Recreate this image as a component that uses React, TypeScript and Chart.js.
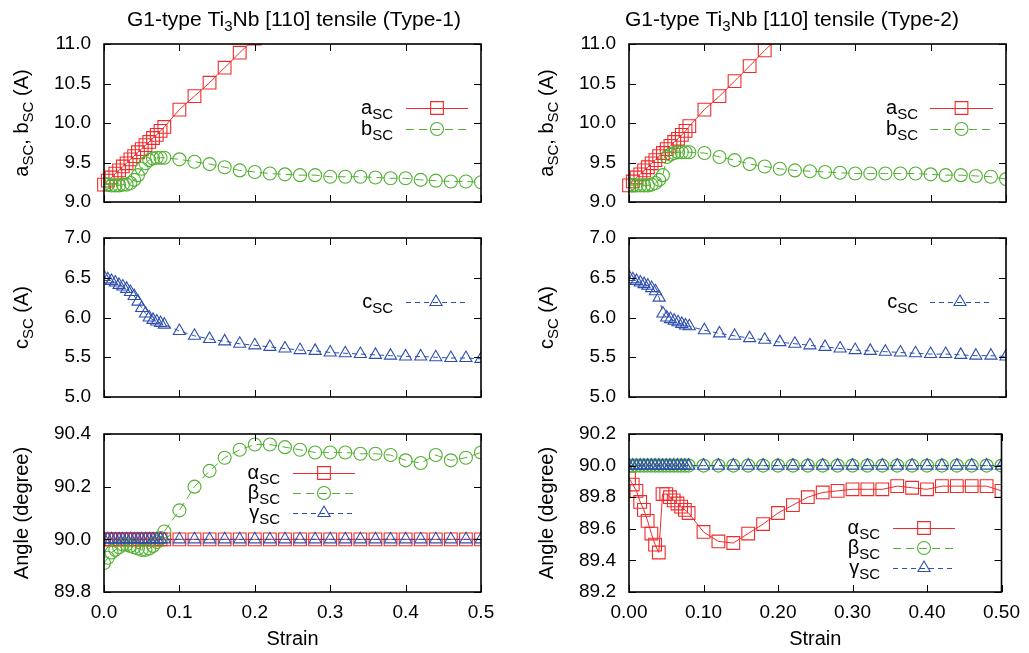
import React, { useEffect, useRef } from 'react';
import { Chart, registerables } from 'chart.js';

Chart.register(...registerables);

// ---------------- data ----------------
const STRAIN = [
  0, 0.005, 0.01, 0.015, 0.02, 0.025, 0.03, 0.035, 0.04, 0.045, 0.05, 0.055, 0.06, 0.065, 0.07, 0.075, 0.08,
  0.1, 0.12, 0.14, 0.16, 0.18, 0.2, 0.22, 0.24, 0.26, 0.28, 0.3, 0.32, 0.34, 0.36, 0.38, 0.4, 0.42, 0.44, 0.46, 0.48, 0.5,
];

const X_TICKS = [0, 0.1, 0.2, 0.3, 0.4, 0.5];
const Y_TICKS_AB = [9.0, 9.5, 10.0, 10.5, 11.0];
const Y_TICKS_C = [5.0, 5.5, 6.0, 6.5, 7.0];
const Y_TICKS_ANG1 = [89.8, 90.0, 90.2, 90.4];
const Y_TICKS_ANG2 = [89.2, 89.4, 89.6, 89.8, 90.0, 90.2];

// Type-1
const A_T1 = [
  9.22, 9.27, 9.31, 9.36, 9.4, 9.45, 9.49, 9.54, 9.58, 9.63, 9.67, 9.72, 9.76, 9.81, 9.85, 9.9, 9.95,
  10.17, 10.34, 10.51, 10.7, 10.89, 11.07, null, null, null, null, null, null, null, null, null, null, null, null, null, null, null,
];
const B_T1 = [
  9.23, 9.22, 9.21, 9.21, 9.21, 9.22, 9.22, 9.24, 9.28, 9.34, 9.42, 9.49, 9.53, 9.55, 9.56, 9.56, 9.56,
  9.54, 9.51, 9.48, 9.44, 9.4, 9.38, 9.36, 9.35, 9.34, 9.34, 9.32, 9.32, 9.32, 9.31, 9.3, 9.3, 9.28, 9.27, 9.26, 9.26, 9.25,
];
const C_T1 = [
  6.51, 6.48, 6.46, 6.44, 6.41, 6.39, 6.36, 6.32, 6.27, 6.2, 6.12, 6.05, 6.0, 5.97, 5.95, 5.93, 5.91,
  5.83, 5.77, 5.73, 5.7, 5.67, 5.65, 5.63, 5.61, 5.59, 5.58, 5.56, 5.55, 5.54, 5.53, 5.52, 5.51, 5.51, 5.5, 5.49, 5.49, 5.48,
];
const ALPHA_T1 = [
  90.0, 90.0, 90.0, 90.0, 90.0, 90.0, 90.0, 90.0, 90.0, 90.0, 90.0, 90.0, 90.0, 90.0, 90.0, 90.0, 90.0,
  90.0, 90.0, 90.0, 90.0, 90.0, 90.0, 90.0, 90.0, 90.0, 90.0, 90.0, 90.0, 90.0, 90.0, 90.0, 90.0, 90.0, 90.0, 90.0, 90.0, 90.0,
];
const BETA_T1 = [
  89.91, 89.93, 89.95, 89.96, 89.97, 89.98, 89.98, 89.975, 89.97, 89.965, 89.96, 89.96, 89.965, 89.975, 89.99, 90.005, 90.03,
  90.11, 90.2, 90.26, 90.31, 90.34, 90.36, 90.36, 90.35, 90.34, 90.33, 90.33, 90.33, 90.325, 90.325, 90.32, 90.3, 90.29, 90.32, 90.3, 90.31, 90.33,
];
const GAMMA_T1 = [
  90.0, 90.0, 90.0, 90.0, 90.0, 90.0, 90.0, 90.0, 90.0, 90.0, 90.0, 90.0, 90.0, 90.0, 90.0, 90.0, 90.0,
  90.0, 90.0, 90.0, 90.0, 90.0, 90.0, 90.0, 90.0, 90.0, 90.0, 90.0, 90.0, 90.0, 90.0, 90.0, 90.0, 90.0, 90.0, 90.0, 90.0, 90.0,
];

// Type-2
const A_T2 = [
  9.21, 9.26, 9.31, 9.35, 9.4, 9.44, 9.49, 9.53, 9.58, 9.62, 9.67, 9.71, 9.76, 9.8, 9.85, 9.9, 9.96,
  10.17, 10.34, 10.53, 10.72, 10.92, 11.1, null, null, null, null, null, null, null, null, null, null, null, null, null, null, null,
];
const B_T2 = [
  9.22, 9.21, 9.21, 9.21, 9.21, 9.21, 9.22, 9.24, 9.28, 9.34, 9.57, 9.6, 9.62, 9.63, 9.63, 9.63, 9.63,
  9.62, 9.57, 9.53, 9.48, 9.45, 9.42, 9.4, 9.39, 9.38, 9.37, 9.36, 9.36, 9.36, 9.36, 9.36, 9.35, 9.34, 9.34, 9.33, 9.32, 9.29,
];
const C_T2 = [
  6.51, 6.48, 6.46, 6.44, 6.42, 6.4, 6.37, 6.33, 6.25, 6.05, 6.0, 5.98, 5.96, 5.94, 5.92, 5.9, 5.89,
  5.84, 5.8, 5.77, 5.74, 5.72, 5.69, 5.67, 5.65, 5.63, 5.61, 5.59, 5.58, 5.57, 5.56, 5.55, 5.54, 5.54, 5.53, 5.52, 5.52, 5.51,
];
const ALPHA_T2 = [
  89.92, 89.88, 89.84, 89.77, 89.72, 89.65, 89.57, 89.5, 89.45, 89.82, 89.82, 89.8, 89.78, 89.76, 89.74, 89.72, 89.7,
  89.58, 89.52, 89.51, 89.57, 89.63, 89.7, 89.75, 89.8, 89.83, 89.84, 89.85, 89.85, 89.85, 89.87, 89.86, 89.85, 89.87, 89.87, 89.87, 89.87, 89.84,
];
const BETA_T2 = [
  90.0, 90.0, 90.0, 90.0, 90.0, 90.0, 90.0, 90.0, 90.0, 90.0, 90.0, 90.0, 90.0, 90.0, 90.0, 90.0, 90.0,
  90.0, 90.0, 90.0, 90.0, 90.0, 90.0, 90.0, 90.0, 90.0, 90.0, 90.0, 90.0, 90.0, 90.0, 90.0, 90.0, 90.0, 90.0, 90.0, 90.0, 90.0,
];
const GAMMA_T2 = [
  90.0, 90.0, 90.0, 90.0, 90.0, 90.0, 90.0, 90.0, 90.0, 90.0, 90.0, 90.0, 90.0, 90.0, 90.0, 90.0, 90.0,
  90.0, 90.0, 90.0, 90.0, 90.0, 90.0, 90.0, 90.0, 90.0, 90.0, 90.0, 90.0, 90.0, 90.0, 90.0, 90.0, 90.0, 90.0, 90.0, 90.0, 90.0,
];

type Seg = [string, boolean?];

const TITLE_1: Seg[] = [['G1-type Ti'], ['3', true], ['Nb [110] tensile (Type-1)']];
const TITLE_2: Seg[] = [['G1-type Ti'], ['3', true], ['Nb [110] tensile (Type-2)']];
const YLABEL_AB: Seg[] = [['a'], ['SC', true], [', b'], ['SC', true], [' (A)']];
const YLABEL_C: Seg[] = [['c'], ['SC', true], [' (A)']];
const YLABEL_ANG: Seg[] = [['Angle (degree)']];
const XLABEL = 'Strain';

// ---------------- styling ----------------
const W = 1029;
const H = 653;
const YW = 70;
const XH = 40;
const FONT = "'Liberation Sans', Arial, Helvetica, sans-serif";
const MAIN = `20px ${FONT}`;
const SUB = `15px ${FONT}`;
const TITLE_MAIN = `21px ${FONT}`;
const TITLE_SUB = `15px ${FONT}`;
const SUB_SHIFT = 5;
const TICK_LEN = 7;

const RED = '#ee2a2a';
const GREEN = '#52b032';
const BLUE = '#2f4fae';

const SOLID: number[] = [];
const DASH_LONG = [8, 5];
const DASH_SHORT = [5, 4];

function series(ys: (number | null)[], color: string, style: string, radius: number, dash: number[], order: number, clip?: any) {
  const d: any = {
    data: STRAIN.map((x, i) => ({ x, y: ys[i] })),
    borderColor: color,
    borderWidth: 1,
    borderDash: dash,
    pointStyle: style,
    pointRadius: radius,
    pointBorderColor: color,
    pointBackgroundColor: 'rgba(0,0,0,0)',
    pointBorderWidth: 1.1,
    tension: 0,
    fill: false,
    order,
  };
  if (clip) d.clip = clip;
  return d;
}

const CLIP_TOP = { left: 12, right: 12, top: 0, bottom: 12 };

interface LegendRow { y: number; label: Seg[]; ds: number }
interface PanelCfg {
  l: number; t: number; r: number; b: number;
  yMin: number; yMax: number; yTicks: number[];
  xDigits: number; showX: boolean;
  title?: Seg[]; titleX?: number;
  ylabel: Seg[]; ylabelX: number;
  legend: { textRight: number; x1: number; x2: number; rows: LegendRow[] };
  datasets: any[];
}

const LX = { l: 104, r: 481 };
const RX = { l: 629, r: 1006 };
const ROW1 = { t: 44, b: 202 };
const ROW2 = { t: 238, b: 397 };
const ROW3 = { t: 434, b: 592 };

const PANELS: PanelCfg[] = [
  {
    ...LX, ...ROW1, yMin: 9, yMax: 11, yTicks: Y_TICKS_AB, xDigits: 1, showX: false,
    title: TITLE_1, titleX: 294, ylabel: YLABEL_AB, ylabelX: 28,
    legend: { textRight: 393, x1: 406, x2: 468, rows: [
      { y: 108, label: [['a'], ['SC', true]], ds: 0 },
      { y: 129, label: [['b'], ['SC', true]], ds: 1 },
    ] },
    datasets: [
      series(A_T1, RED, 'rect', 9, SOLID, 2, CLIP_TOP),
      series(B_T1, GREEN, 'circle', 6.5, DASH_LONG, 1),
    ],
  },
  {
    ...LX, ...ROW2, yMin: 5, yMax: 7, yTicks: Y_TICKS_C, xDigits: 1, showX: false,
    ylabel: YLABEL_C, ylabelX: 28,
    legend: { textRight: 393, x1: 406, x2: 466, rows: [
      { y: 302, label: [['c'], ['SC', true]], ds: 0 },
    ] },
    datasets: [series(C_T1, BLUE, 'triangle', 7, DASH_SHORT, 1)],
  },
  {
    ...LX, ...ROW3, yMin: 89.8, yMax: 90.4, yTicks: Y_TICKS_ANG1, xDigits: 1, showX: true,
    ylabel: YLABEL_ANG, ylabelX: 28,
    legend: { textRight: 280, x1: 293, x2: 355, rows: [
      { y: 473, label: [['α'], ['SC', true]], ds: 0 },
      { y: 493, label: [['β'], ['SC', true]], ds: 1 },
      { y: 513, label: [['γ'], ['SC', true]], ds: 2 },
    ] },
    datasets: [
      series(ALPHA_T1, RED, 'rect', 9, SOLID, 3),
      series(BETA_T1, GREEN, 'circle', 6.5, DASH_LONG, 2),
      series(GAMMA_T1, BLUE, 'triangle', 7, DASH_SHORT, 1),
    ],
  },
  {
    ...RX, ...ROW1, yMin: 9, yMax: 11, yTicks: Y_TICKS_AB, xDigits: 2, showX: false,
    title: TITLE_2, titleX: 792, ylabel: YLABEL_AB, ylabelX: 553,
    legend: { textRight: 918, x1: 930, x2: 993, rows: [
      { y: 108, label: [['a'], ['SC', true]], ds: 0 },
      { y: 129, label: [['b'], ['SC', true]], ds: 1 },
    ] },
    datasets: [
      series(A_T2, RED, 'rect', 9, SOLID, 2, CLIP_TOP),
      series(B_T2, GREEN, 'circle', 6.5, DASH_LONG, 1),
    ],
  },
  {
    ...RX, ...ROW2, yMin: 5, yMax: 7, yTicks: Y_TICKS_C, xDigits: 2, showX: false,
    ylabel: YLABEL_C, ylabelX: 553,
    legend: { textRight: 918, x1: 930, x2: 990, rows: [
      { y: 302, label: [['c'], ['SC', true]], ds: 0 },
    ] },
    datasets: [series(C_T2, BLUE, 'triangle', 7, DASH_SHORT, 1)],
  },
  {
    ...RX, ...ROW3, yMin: 89.2, yMax: 90.2, yTicks: Y_TICKS_ANG2, xDigits: 2, showX: true,
    ylabel: YLABEL_ANG, ylabelX: 553,
    legend: { textRight: 880, x1: 893, x2: 955, rows: [
      { y: 528, label: [['α'], ['SC', true]], ds: 0 },
      { y: 548, label: [['β'], ['SC', true]], ds: 1 },
      { y: 568, label: [['γ'], ['SC', true]], ds: 2 },
    ] },
    datasets: [
      series(ALPHA_T2, RED, 'rect', 9, SOLID, 3),
      series(BETA_T2, GREEN, 'circle', 6.5, DASH_LONG, 2),
      series(GAMMA_T2, BLUE, 'triangle', 7, DASH_SHORT, 1),
    ],
  },
];

// ---------------- drawing helpers ----------------
function richWidth(ctx: CanvasRenderingContext2D, segs: Seg[], main: string, sub: string) {
  let w = 0;
  for (const [t, s] of segs) {
    ctx.font = s ? sub : main;
    w += ctx.measureText(t).width;
  }
  return w;
}

function drawRich(
  ctx: CanvasRenderingContext2D, segs: Seg[], x: number, y: number,
  align: 'left' | 'center' | 'right', main = MAIN, sub = SUB,
) {
  const w = richWidth(ctx, segs, main, sub);
  let cx = align === 'right' ? x - w : align === 'center' ? x - w / 2 : x;
  ctx.textAlign = 'left';
  ctx.textBaseline = 'alphabetic';
  for (const [t, s] of segs) {
    ctx.font = s ? sub : main;
    ctx.fillText(t, cx, y + (s ? SUB_SHIFT : 0));
    cx += ctx.measureText(t).width;
  }
}

function drawMarker(ctx: CanvasRenderingContext2D, style: string, x: number, y: number, r: number) {
  ctx.beginPath();
  if (style === 'rect') {
    const s = r * Math.SQRT1_2;
    ctx.rect(x - s, y - s, 2 * s, 2 * s);
  } else if (style === 'circle') {
    ctx.arc(x, y, r, 0, Math.PI * 2);
  } else {
    ctx.moveTo(x, y - r);
    ctx.lineTo(x + r * Math.sin((2 * Math.PI) / 3), y - r * Math.cos((2 * Math.PI) / 3));
    ctx.lineTo(x + r * Math.sin((4 * Math.PI) / 3), y - r * Math.cos((4 * Math.PI) / 3));
    ctx.closePath();
  }
  ctx.stroke();
}

function makePanelPlugin(cfg: PanelCfg) {
  return {
    id: 'panelDecor',
    afterDraw(chart: any) {
      const { ctx, chartArea: ca } = chart;
      const xs = chart.scales.x;
      const ys = chart.scales.y;
      ctx.save();
      ctx.setLineDash([]);
      // inner ticks on all four sides
      ctx.strokeStyle = '#000';
      ctx.lineWidth = 1;
      ctx.beginPath();
      for (const v of X_TICKS) {
        const px = Math.round(xs.getPixelForValue(v)) + 0.5;
        ctx.moveTo(px, ca.bottom);
        ctx.lineTo(px, ca.bottom - TICK_LEN);
        ctx.moveTo(px, ca.top);
        ctx.lineTo(px, ca.top + TICK_LEN);
      }
      for (const v of cfg.yTicks) {
        const py = Math.round(ys.getPixelForValue(v)) + 0.5;
        ctx.moveTo(ca.left, py);
        ctx.lineTo(ca.left + TICK_LEN, py);
        ctx.moveTo(ca.right, py);
        ctx.lineTo(ca.right - TICK_LEN, py);
      }
      ctx.stroke();
      // frame
      ctx.lineWidth = 1.6;
      ctx.strokeRect(ca.left, ca.top, ca.right - ca.left, ca.bottom - ca.top);

      ctx.fillStyle = '#000';
      // title
      if (cfg.title) drawRich(ctx, cfg.title, cfg.titleX || (ca.left + ca.right) / 2, 26, 'center', TITLE_MAIN, TITLE_SUB);
      // y label
      ctx.save();
      ctx.translate(cfg.ylabelX, (ca.top + ca.bottom) / 2);
      ctx.rotate(-Math.PI / 2);
      drawRich(ctx, cfg.ylabel, 0, 0, 'center');
      ctx.restore();
      // x label
      if (cfg.showX) drawRich(ctx, [[XLABEL]], (ca.left + ca.right) / 2, 645, 'center');

      // legend
      const lg = cfg.legend;
      for (const row of lg.rows) {
        ctx.fillStyle = '#000';
        drawRich(ctx, row.label, lg.textRight, row.y + 6, 'right');
        const ds = chart.data.datasets[row.ds];
        ctx.strokeStyle = ds.borderColor;
        ctx.lineWidth = 1;
        ctx.setLineDash(ds.borderDash || []);
        ctx.beginPath();
        ctx.moveTo(lg.x1, row.y + 0.5);
        ctx.lineTo(lg.x2, row.y + 0.5);
        ctx.stroke();
        ctx.setLineDash([]);
        ctx.lineWidth = ds.pointBorderWidth || 1;
        drawMarker(ctx, ds.pointStyle, (lg.x1 + lg.x2) / 2, row.y, ds.pointRadius);
      }
      ctx.restore();
    },
  };
}

function buildConfig(cfg: PanelCfg): any {
  const tickFont = { family: FONT, size: 19 };
  return {
    type: 'line',
    data: { datasets: cfg.datasets },
    options: {
      responsive: false,
      animation: false,
      events: [],
      layout: { padding: { left: cfg.l - YW, top: cfg.t, right: W - cfg.r, bottom: H - cfg.b - XH } },
      plugins: { legend: { display: false }, tooltip: { enabled: false }, title: { display: false } },
      scales: {
        x: {
          type: 'linear',
          min: 0,
          max: 0.5,
          afterBuildTicks: (s: any) => { s.ticks = X_TICKS.map((v) => ({ value: v })); },
          afterFit: (s: any) => { s.height = XH; },
          grid: { display: false, drawTicks: false },
          border: { display: false },
          ticks: {
            display: cfg.showX,
            padding: 9,
            font: tickFont,
            color: '#000',
            maxRotation: 0,
            autoSkip: false,
            callback: (v: any) => Number(v).toFixed(cfg.xDigits),
          },
        },
        y: {
          type: 'linear',
          min: cfg.yMin,
          max: cfg.yMax,
          afterBuildTicks: (s: any) => { s.ticks = cfg.yTicks.map((v) => ({ value: v })); },
          afterFit: (s: any) => { s.width = YW; },
          grid: { display: false, drawTicks: false },
          border: { display: false },
          ticks: {
            padding: 13,
            font: tickFont,
            color: '#000',
            autoSkip: false,
            callback: (v: any) => Number(v).toFixed(1),
          },
        },
      },
    },
    plugins: [makePanelPlugin(cfg)],
  };
}

function Panel({ cfg }: { cfg: PanelCfg }) {
  const ref = useRef<HTMLCanvasElement>(null);
  useEffect(() => {
    if (!ref.current) return;
    const chart = new Chart(ref.current, buildConfig(cfg));
    return () => chart.destroy();
  }, [cfg]);
  return (
    <canvas
      ref={ref}
      width={W}
      height={H}
      style={{ position: 'absolute', left: 0, top: 0, width: W, height: H }}
    />
  );
}

export default function App() {
  return (
    <div style={{ position: 'absolute', left: 0, top: 0, width: W, height: H, background: '#fff', overflow: 'hidden' }}>
      {PANELS.map((p, i) => (
        <Panel key={i} cfg={p} />
      ))}
    </div>
  );
}
